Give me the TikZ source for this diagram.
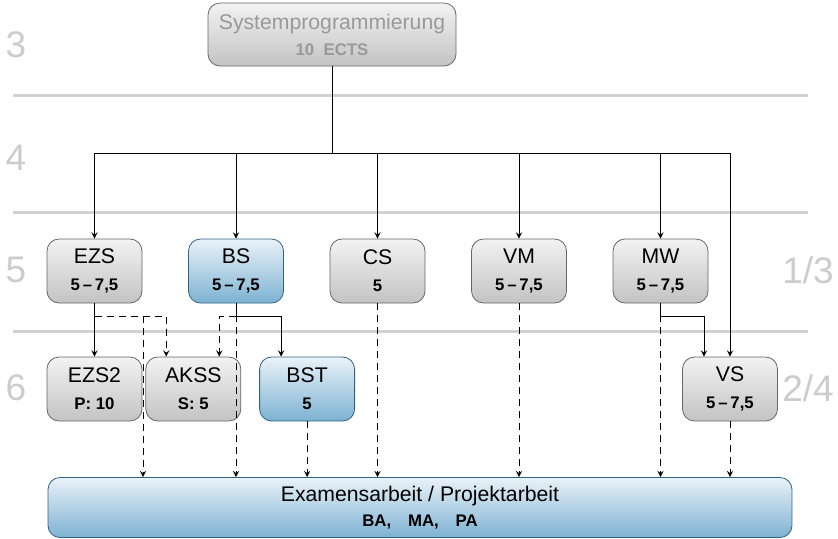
\documentclass[tikz,border=0pt]{standalone}
\usepackage{fontspec}
\setmainfont{Liberation Sans}
\usepackage{tikz}
\usetikzlibrary{positioning, arrows}
\definecolor{boxborder}{HTML}{666666}
\definecolor{blueborder}{HTML}{2E6386}
\definecolor{bluetop}{HTML}{EAF2F9}
\definecolor{bluebottom}{HTML}{7DB2D2}
\definecolor{levelgray}{HTML}{CCCCCC}
\definecolor{titlegray}{HTML}{999999}
\newcommand{\pts}[1]{{\fontsize{8.4}{10}\selectfont\bfseries #1}}
\tikzset{
    >=stealth, % small bold arrow heads
    module/.style={draw=boxborder, rounded corners=6pt, top color=gray!10, bottom color=gray!47,
        minimum width=47.5pt, minimum height=32pt, align=center, inner sep=2pt,
        font=\fontsize{10.6}{12}\selectfont}, % grey course box
    modblue/.style={module, draw=blueborder, top color=bluetop, bottom color=bluebottom}, % blue course box
    topbox/.style={module, text=titlegray, minimum width=124pt, minimum height=31.5pt}, % root box
    exambox/.style={modblue, minimum width=372pt, minimum height=30pt}, % thesis box
    levelline/.style={draw=gray!35, line width=1.5pt}, % separator between semesters
    levelnum/.style={text=levelgray, font=\fontsize{18.5}{18.5}\selectfont}, % semester number
    dashed/.style={dash pattern=on 3.5pt off 2.5pt},
    node distance=70.75pt, % distance between the course boxes. Change if necessary.
}
\begin{document}
\begin{tikzpicture}[x=0.5pt, y=-0.5pt]
    \useasboundingbox (0,0) rectangle (838,538);
    % semester lines and numbers
    \foreach \y in {95,212,331}
        \draw[levelline] (13,\y) -- (808,\y);
    \node[levelnum] (l3) at (16,45) {3};
    \node[levelnum] (l4) at (16,158) {4};
    \node[levelnum] (l5) at (16,270) {5};
    \node[levelnum] (l6) at (16,388) {6};
    \node[levelnum] (l13) at (808,270) {1/3};
    \node[levelnum] (l24) at (808,388) {2/4};
    % boxes
    \node[topbox] (sys) at (332,34.5) {Systemprogrammierung\\[1pt]\pts{10\ \ ECTS}};
    \node[module] (ezs) at (94.5,271) {EZS\\[1.5pt]\pts{5\,–\,7,5}};
    \node[modblue, right of=ezs] (bs) {BS\\[1.5pt]\pts{5\,–\,7,5}};
    \node[module, right of=bs] (cs) {CS\\[1.5pt]\pts{5}};
    \node[module, right of=cs] (vm) {VM\\[1.5pt]\pts{5\,–\,7,5}};
    \node[module, right of=vm] (mw) {MW\\[1.5pt]\pts{5\,–\,7,5}};
    \node[module, below of=ezs, node distance=59pt] (ezs2) {EZS2\\[1.5pt]\pts{P: 10}};
    \node[module, right=1.5pt of ezs2] (akss) {AKSS\\[1.5pt]\pts{S: 5}};
    \node[modblue, right=9pt of akss] (bst) {BST\\[1.5pt]\pts{5}};
    \node[module, below of=mw, node distance=59pt, xshift=34.75pt] (vs) {VS\\[1.5pt]\pts{5\,–\,7,5}};
    \node[exambox] (exam) at (420,507.5) {Examensarbeit / Projektarbeit\\[0.5pt]\pts{BA,\quad MA,\quad PA}};
    % solid connectors
    \coordinate (hub) at (332,153);
    \draw (sys) -- (hub);
    \foreach \m in {ezs,bs,cs,vm,mw,vs}
        \draw[->] (hub) -| (\m);
    \draw[->] (ezs) -- (ezs2);
    \draw[->] (bs.south) -- ++(0,13) -| ([xshift=-13pt]bst.north);
    \draw[->] (mw.south) -- ++(0,13) -| ([xshift=-13pt]vs.north);
    % dashed connectors
    \coordinate (ezsx) at (143,316);
    \draw[dashed,->] (ezs.south) ++(0,13) -| ([xshift=-13.5pt]akss.north);
    \draw[dashed,->] (ezsx) -- (ezsx |- exam.north);
    \draw[dashed,->] (bs.south) ++(0,13) -| ([xshift=13pt]akss.north);
    \foreach \m in {bs,bst,cs,vm,mw,vs}
        \draw[dashed,->] (\m) -- (\m |- exam.north);
\end{tikzpicture}
\end{document}
